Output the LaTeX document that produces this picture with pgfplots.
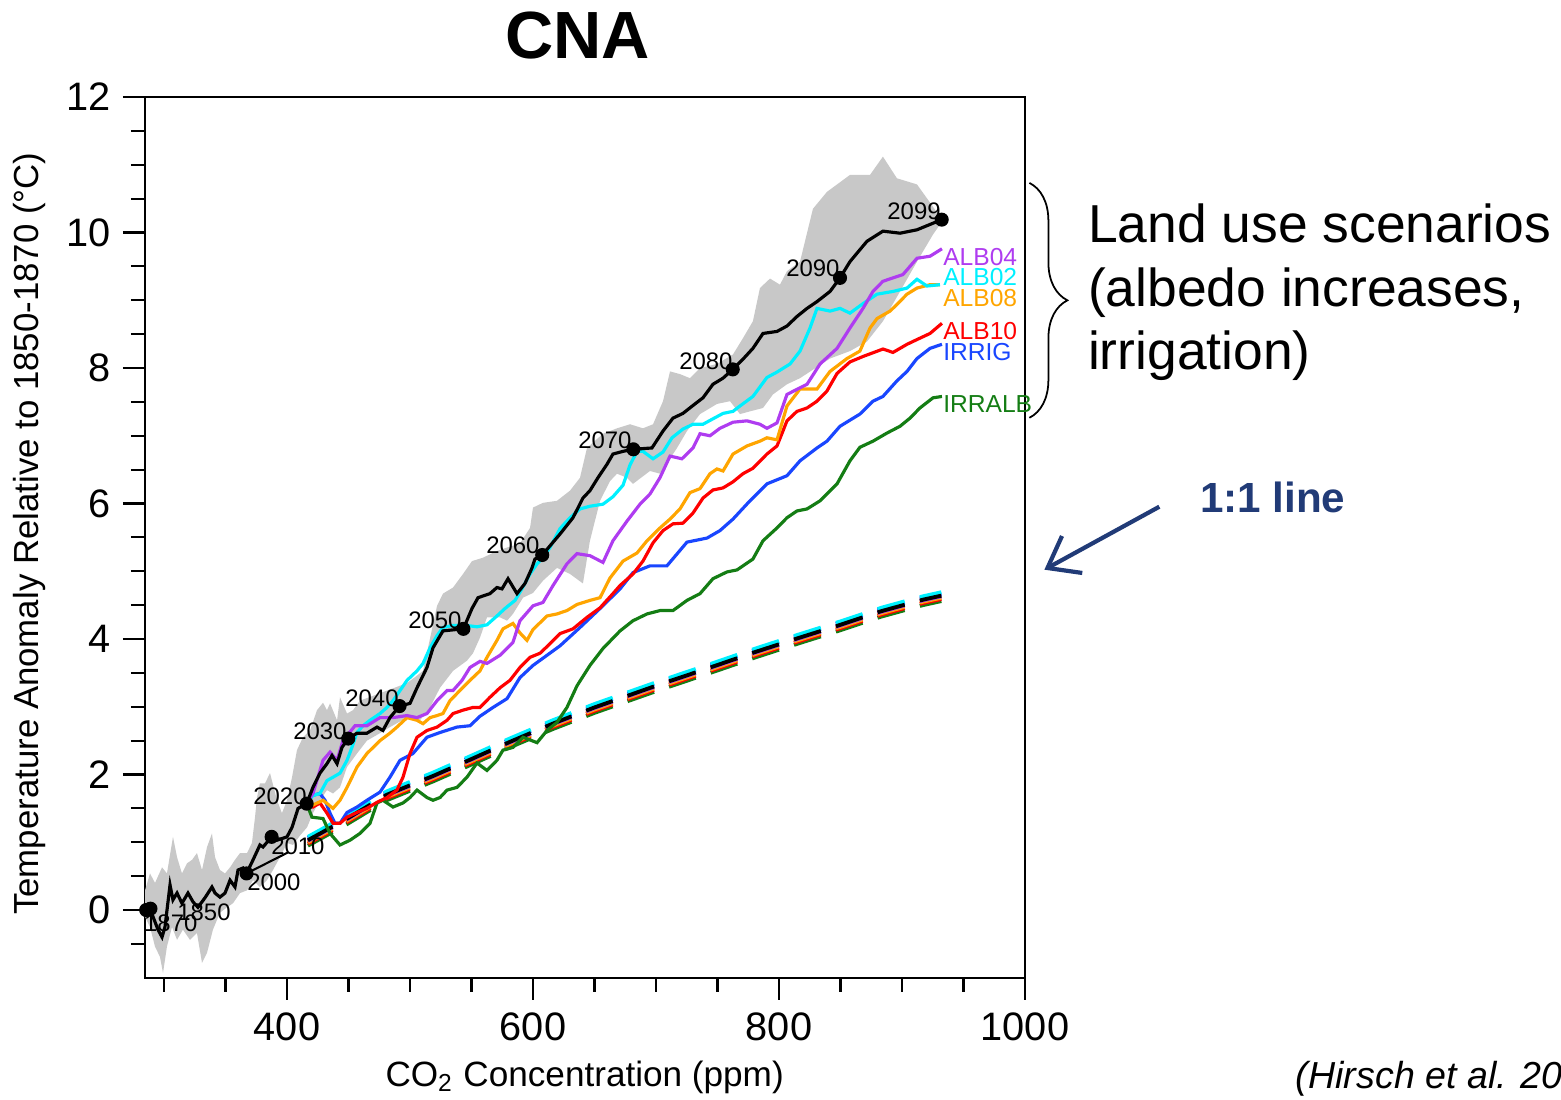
\documentclass[border=0pt]{standalone}
\usepackage{fontspec}
\setmainfont{Liberation Sans}
\usepackage{pgfplots}
\pgfplotsset{compat=1.18}
\usepackage{pgfplotstable}
\usetikzlibrary{arrows.meta,decorations.pathreplacing}

\definecolor{cALBfour}{RGB}{175,60,240}
\definecolor{cALBtwo}{RGB}{0,240,255}
\definecolor{cALBeight}{RGB}{255,165,0}
\definecolor{cALBten}{RGB}{255,0,0}
\definecolor{cIRRIG}{RGB}{25,70,255}
\definecolor{cIRRALB}{RGB}{20,125,20}
\definecolor{bandgray}{RGB}{200,200,200}
\definecolor{navy}{RGB}{33,59,119}

% 1:1 lines (k = RCP8.5 reference, others = land use scenarios)
\pgfplotstableread{
x   k    c    b    p    o    r    g
417 1.03 1.08 1.06 1.02 1.00 0.98 0.95
449 1.35 1.40 1.38 1.34 1.32 1.30 1.27
481 1.70 1.75 1.73 1.69 1.67 1.65 1.62
519 1.98 2.03 2.01 1.97 1.95 1.93 1.90
549 2.22 2.27 2.25 2.21 2.19 2.17 2.14
581 2.48 2.53 2.51 2.47 2.45 2.43 2.40
616 2.75 2.80 2.78 2.74 2.72 2.70 2.67
650 2.99 3.04 3.02 2.98 2.96 2.94 2.91
700 3.31 3.36 3.34 3.30 3.28 3.26 3.23
749 3.61 3.66 3.64 3.60 3.58 3.56 3.53
781 3.81 3.86 3.84 3.80 3.78 3.76 3.73
815 4.01 4.06 4.04 4.00 3.98 3.96 3.93
850 4.21 4.26 4.24 4.20 4.18 4.16 4.13
883 4.41 4.46 4.44 4.40 4.38 4.36 4.33
917 4.58 4.63 4.61 4.57 4.55 4.53 4.50
932 4.64 4.69 4.67 4.63 4.61 4.59 4.56
}\oneone

\begin{document}
\begin{tikzpicture}
\useasboundingbox (0,0) rectangle (15.61cm,-10.99cm);
\begin{axis}[
  at={(1.45cm,-9.7775cm)}, anchor=south west,
  scale only axis, width=8.8cm, height=8.8075cm,
  xmin=284.55, xmax=1000, ymin=-1, ymax=12,
  xtick={400,600,800,1000},
  minor xtick={300,350,450,500,550,650,700,750,850,900,950},
  ytick={0,2,...,12},
  minor ytick={-0.5,0,...,11.5},
  tick pos=left, tick align=outside,
  major tick length=6.3pt, minor tick length=4pt,
  axis line style={line width=0.6pt},
  tick style={black, line width=0.6pt},
  tick label style={font=\fontsize{11.3}{13}\selectfont},
  scaled x ticks=false,
  /pgf/number format/1000 sep={},
  /pgf/number format/assume math mode=true,
  clip=false,
]
% model spread
\addplot[draw=none, fill=bandgray] coordinates {
(284.6,0.29)(288.6,0.54)(292.7,0.40)(298.4,0.63)(302.4,0.54)(307.3,1.08)(310.6,0.78)(314.6,0.54)(318.7,0.69)(322.8,0.74)(326.8,0.84)(330.9,0.59)(335.0,0.93)(339.0,1.13)(341.5,0.78)(345.5,0.59)(349.6,0.54)(353.7,0.63)(357.7,0.74)(361.8,0.84)(367.5,0.84)(371.5,0.99)(374.0,1.37)(375.6,1.66)(378.0,1.87)(382.1,1.87)(386.2,2.02)(391.9,1.62)(395.9,1.43)(400.0,1.62)(404.1,1.96)(408.1,2.36)(413.0,2.55)(418.7,2.65)(424.4,2.95)(429.3,3.06)(432.5,2.95)(435.0,3.05)(440.7,2.80)(443.1,3.14)(448.8,2.90)(453.7,2.95)(459.3,3.09)(475.6,3.20)(497.6,3.35)(505.0,3.45)(510.6,3.53)(522.0,4.49)(526.8,4.67)(535.0,4.76)(543.1,4.96)(550.4,5.15)(559.3,5.20)(570.7,5.30)(578.9,5.35)(589.4,5.41)(597.6,5.64)(600.0,5.94)(608.1,6.01)(619.5,6.04)(630.1,6.19)(638.2,6.38)(643.9,6.82)(656.9,7.03)(668.3,7.11)(678.9,7.17)(689.4,7.11)(697.6,7.17)(705.7,7.51)(711.4,7.95)(719.5,7.91)(727.6,7.85)(735.8,8.00)(749.6,8.06)(762.6,8.20)(770.7,8.44)(778.8,8.69)(784.5,9.18)(792.7,9.32)(800.8,9.23)(806.5,9.43)(817.1,9.57)(827.6,10.35)(839.0,10.60)(857.7,10.85)(874.0,10.85)(884.5,11.12)(895.9,10.80)(912.2,10.71)(925.2,10.38)(932.5,10.19)
(932.5,10.16)(925.2,9.97)(912.2,9.57)(898.4,9.13)(884.5,8.69)(871.5,8.39)(857.7,8.25)(841.5,8.14)(817.1,7.85)(806.5,7.76)(795.1,7.61)(787.0,7.41)(776.4,7.36)(768.3,7.32)(760.2,7.51)(749.6,7.47)(735.8,7.32)(725.2,7.07)(717.1,6.82)(703.3,6.44)(695.1,6.48)(681.3,6.29)(676.4,6.38)(668.3,6.44)(662.6,6.33)(654.5,6.04)(646.3,5.45)(640.6,4.82)(630.1,4.96)(619.5,5.05)(608.1,4.86)(600.0,4.68)(591.9,4.61)(583.7,4.37)(578.9,4.27)(573.2,4.32)(562.6,4.32)(556.9,4.02)(551.2,3.79)(546.3,3.68)(535.0,3.53)(524.4,3.28)(516.3,2.99)(508.1,2.80)(497.6,2.84)(483.7,2.70)(475.6,2.61)(465.0,2.50)(456.9,2.31)(448.8,2.11)(443.1,1.81)(437.4,1.72)(432.5,1.77)(426.8,1.62)(421.1,1.43)(416.3,1.22)(410.6,1.10)(404.9,0.96)(400.0,0.99)(394.3,0.78)(388.6,0.59)(383.7,0.44)(378.0,0.34)(372.4,0.44)(367.5,0.29)(361.8,0.25)(356.1,0.10)(351.2,0.04)(345.5,-0.04)(339.8,-0.29)(335.0,-0.63)(330.9,-0.78)(326.8,-0.34)(321.1,-0.44)(315.4,-0.29)(310.6,-0.44)(306.5,-0.25)(302.4,-0.54)(299.2,-0.93)(296.7,-0.69)(292.7,-0.54)(288.6,-0.25)(284.6,-0.10)
};

% 1:1 lines
\pgfplotsset{oneline/.style={line width=1.1pt, dash pattern=on 8pt off 4.5pt}}
\addplot[oneline, cIRRALB] table[x=x,y=g]{\oneone};
\addplot[oneline, cALBten] table[x=x,y=r]{\oneone};
\addplot[oneline, cALBeight] table[x=x,y=o]{\oneone};
\addplot[oneline, cALBfour] table[x=x,y=p]{\oneone};
\addplot[oneline, cIRRIG] table[x=x,y=b]{\oneone};
\addplot[oneline, cALBtwo] table[x=x,y=c]{\oneone};
\addplot[oneline, black] table[x=x,y=k]{\oneone};
\addplot[black, line width=0.6pt] coordinates {(367.1,0.54)(400.8,0.85)};

% land use scenarios
\addplot[cIRRALB, line width=0.9pt] coordinates {
(416.0,1.57)(420.3,1.37)(429.3,1.35)(435.0,1.13)(443.1,0.96)(451.2,1.03)(459.3,1.13)(467.5,1.28)(473.2,1.58)(478.0,1.62)(486.2,1.52)(494.3,1.58)(500.0,1.66)(505.7,1.77)(513.8,1.66)(518.7,1.62)(524.4,1.66)(530.1,1.77)(538.2,1.81)(546.3,1.96)(554.5,2.17)(562.6,2.06)(570.7,2.21)(575.6,2.36)(583.7,2.40)(591.9,2.55)(603.3,2.47)(611.4,2.65)(619.5,2.77)(627.6,2.99)(635.8,3.31)(646.3,3.61)(656.9,3.86)(670.8,4.12)(681.3,4.27)(692.7,4.37)(703.3,4.42)(713.8,4.42)(725.2,4.57)(735.8,4.67)(746.3,4.89)(757.7,4.99)(765.9,5.02)(778.8,5.18)(787.0,5.45)(798.4,5.64)(806.5,5.79)(814.6,5.89)(822.8,5.92)(833.4,6.04)(847.2,6.29)(857.7,6.63)(865.8,6.83)(876.4,6.92)(887.8,7.04)(898.4,7.14)(906.5,7.26)(914.6,7.41)(925.2,7.56)(932.5,7.58)
};
\addplot[cIRRIG, line width=0.9pt] coordinates {
(416.0,1.57)(420.3,1.69)(426.8,1.72)(430.9,1.62)(435.0,1.43)(439.0,1.28)(443.1,1.28)(448.8,1.44)(456.9,1.52)(465.0,1.62)(475.6,1.74)(483.7,1.96)(491.9,2.21)(502.4,2.31)(513.8,2.55)(524.4,2.62)(538.2,2.70)(548.8,2.72)(556.9,2.86)(567.5,2.99)(578.9,3.12)(589.4,3.43)(600.0,3.61)(611.4,3.76)(622.0,3.90)(638.2,4.17)(654.5,4.45)(670.8,4.74)(681.3,4.98)(695.1,5.08)(708.9,5.08)(725.2,5.43)(741.5,5.49)(752.0,5.60)(762.6,5.77)(776.4,6.04)(790.2,6.29)(806.5,6.41)(817.1,6.63)(830.9,6.82)(839.0,6.92)(849.6,7.14)(865.8,7.32)(876.4,7.51)(884.5,7.58)(895.9,7.81)(904.1,7.95)(912.2,8.14)(922.8,8.29)(932.5,8.35)
};
\addplot[cALBten, line width=0.9pt] coordinates {
(416.0,1.57)(421.1,1.52)(426.8,1.58)(432.5,1.43)(437.4,1.28)(443.1,1.28)(448.8,1.37)(456.9,1.44)(465.0,1.50)(473.2,1.59)(481.3,1.66)(489.4,1.77)(494.3,1.96)(500.0,2.31)(505.7,2.55)(513.8,2.65)(522.0,2.70)(530.1,2.80)(535.0,2.90)(543.1,2.95)(551.2,2.99)(556.9,2.99)(565.0,3.14)(573.2,3.28)(581.3,3.39)(589.4,3.58)(597.6,3.73)(605.7,3.79)(613.8,3.93)(622.0,4.08)(632.5,4.15)(643.9,4.32)(654.5,4.46)(665.0,4.67)(670.8,4.79)(681.3,4.96)(689.4,5.15)(697.6,5.42)(705.7,5.60)(713.8,5.70)(722.0,5.71)(730.1,5.86)(738.2,6.08)(746.3,6.20)(754.5,6.23)(762.6,6.32)(770.7,6.44)(778.8,6.52)(790.2,6.73)(798.4,6.85)(806.5,7.22)(814.6,7.36)(822.8,7.41)(830.9,7.51)(839.0,7.66)(847.2,7.92)(857.7,8.09)(868.3,8.17)(884.5,8.28)(892.7,8.23)(904.1,8.35)(912.2,8.42)(922.8,8.51)(932.5,8.66)
};
\addplot[cALBeight, line width=0.9pt] coordinates {
(416.0,1.57)(421.1,1.55)(429.3,1.62)(437.4,1.50)(443.1,1.62)(448.8,1.81)(456.9,2.11)(465.0,2.31)(475.6,2.50)(483.7,2.61)(489.4,2.70)(497.6,2.84)(505.7,2.80)(510.6,2.75)(516.3,2.84)(522.0,2.87)(526.8,2.90)(532.5,3.09)(540.6,3.24)(548.8,3.39)(556.9,3.53)(562.6,3.73)(570.7,3.98)(575.6,4.15)(583.7,4.23)(589.4,4.09)(595.1,3.98)(600.0,4.14)(611.4,4.34)(619.5,4.37)(627.6,4.42)(635.8,4.51)(646.3,4.57)(654.5,4.61)(662.6,4.90)(673.2,5.15)(684.6,5.27)(692.7,5.45)(703.3,5.64)(711.4,5.77)(719.5,5.92)(727.6,6.16)(735.8,6.22)(743.9,6.44)(749.6,6.51)(754.5,6.48)(762.6,6.73)(774.0,6.85)(784.5,6.92)(790.2,6.97)(798.4,6.94)(806.5,7.44)(817.1,7.69)(830.9,7.69)(841.5,7.95)(855.3,8.14)(865.8,8.25)(874.0,8.59)(879.7,8.73)(890.3,8.84)(896.0,8.94)(904.1,9.09)(912.2,9.18)(922.8,9.23)(930.9,9.23)
};
\addplot[cALBtwo, line width=0.9pt] coordinates {
(416.0,1.57)(421.1,1.69)(426.8,1.72)(432.5,1.91)(437.4,1.96)(443.1,2.02)(448.8,2.21)(452.8,2.40)(456.9,2.62)(461.8,2.72)(467.5,2.80)(475.6,2.90)(481.3,2.99)(486.2,3.09)(491.9,3.24)(497.6,3.39)(505.7,3.53)(510.6,3.64)(516.3,3.87)(522.0,4.05)(526.8,4.17)(535.0,4.20)(546.3,4.20)(554.5,4.18)(562.6,4.21)(570.7,4.34)(577.2,4.45)(585.4,4.57)(591.0,4.74)(597.6,4.96)(603.3,5.11)(608.1,5.20)(613.8,5.35)(622.0,5.63)(630.1,5.79)(638.2,5.92)(646.3,5.96)(656.9,5.99)(665.0,6.10)(673.2,6.27)(678.9,6.57)(684.6,6.77)(689.4,6.77)(697.6,6.66)(705.7,6.76)(713.0,6.97)(722.0,7.10)(730.1,7.17)(738.2,7.17)(746.3,7.25)(754.5,7.33)(762.6,7.36)(768.3,7.44)(778.8,7.58)(790.2,7.86)(798.4,7.94)(809.0,8.06)(817.1,8.25)(825.2,8.59)(830.9,8.88)(841.5,8.84)(849.6,8.88)(857.7,8.81)(868.3,8.95)(879.7,9.09)(892.7,9.13)(904.1,9.18)(912.2,9.31)(920.3,9.21)(930.9,9.23)
};
\addplot[cALBfour, line width=0.9pt] coordinates {
(416.0,1.57)(421.1,1.72)(429.3,2.21)(435.0,2.33)(440.7,2.21)(445.5,2.50)(455.3,2.72)(465.0,2.72)(475.6,2.84)(486.2,2.84)(497.6,2.87)(505.7,2.84)(513.8,2.90)(522.0,3.09)(530.1,3.24)(535.0,3.24)(542.3,3.39)(548.8,3.58)(556.9,3.67)(562.6,3.64)(573.2,3.76)(583.7,3.95)(589.4,4.27)(600.0,4.49)(608.1,4.54)(616.3,4.79)(627.6,5.11)(635.8,5.26)(646.3,5.23)(656.9,5.13)(665.0,5.45)(676.4,5.74)(687.0,5.99)(695.1,6.14)(703.2,6.38)(711.4,6.70)(721.1,6.66)(730.1,6.82)(735.8,7.03)(743.9,7.00)(752.0,7.11)(762.6,7.20)(774.0,7.22)(784.5,7.17)(790.2,7.11)(798.4,7.19)(806.5,7.61)(822.8,7.76)(833.4,8.06)(847.2,8.29)(857.7,8.59)(868.3,8.88)(876.4,9.13)(884.5,9.28)(900.8,9.38)(912.2,9.62)(922.8,9.65)(932.5,9.76)
};

% RCP8.5 reference (historical + future)
\addplot[black, line width=0.9pt] coordinates {
(285,0.00)(288.6,0.03)(291.1,-0.10)(295.1,-0.29)(298.4,-0.40)(300.8,-0.25)(304.9,0.37)(307.3,0.15)(310.6,0.25)(314.6,0.10)(319.5,0.25)(323.6,0.12)(327.6,0.04)(333.3,0.18)(339.0,0.34)(341.5,0.25)(345.5,0.19)(349.6,0.25)(353.7,0.44)(357.7,0.34)(360.2,0.59)(364.2,0.62)(367.1,0.54)(372.4,0.74)(378.0,0.96)(380.5,0.93)(387.5,1.08)(391.9,1.03)(400,1.08)(404.1,1.22)(409,1.50)(416.0,1.57)(421.1,1.81)(426.8,2.02)(432.5,2.16)(436.6,2.28)(440.7,2.16)(444.7,2.40)(449.8,2.53)(456.9,2.61)(465.0,2.61)(473.2,2.70)(478.0,2.65)(483.7,2.84)(491.5,3.01)(500.0,3.05)(505.7,3.28)(513.8,3.58)(518.7,3.87)(526.8,4.12)(543.4,4.15)(550.4,4.45)(555.3,4.61)(565.0,4.67)(570.7,4.76)(574.8,4.74)(579.7,4.89)(587.0,4.67)(593.5,4.82)(599.2,5.05)(601.6,5.18)(607.5,5.24)(622.0,5.55)(632.5,5.79)(640.6,6.08)(646.3,6.19)(652.8,6.38)(660.2,6.58)(665.0,6.73)(673.2,6.77)(681.6,6.80)(696.7,6.82)(705.7,7.07)(713.8,7.26)(721.9,7.33)(731.7,7.47)(738.2,7.56)(746.3,7.76)(754.5,7.85)(762.4,7.98)(770.7,8.13)(778.8,8.29)(787.0,8.51)(798.4,8.54)(806.5,8.62)(814.6,8.76)(822.8,8.88)(830.9,8.98)(841.5,9.13)(849.6,9.33)(857.7,9.57)(871.5,9.87)(884.5,10.02)(898.4,9.99)(912.2,10.04)(932.3,10.19)
};
\addplot[only marks, mark=*, mark size=1.8pt, black] coordinates {
(285.5,0.00)(289,0.02)(367.1,0.54)(387.5,1.08)(416.0,1.57)(449.8,2.53)(491.5,3.01)(543.4,4.15)(607.5,5.24)(681.6,6.80)(762.4,7.98)(849.6,9.33)(932.3,10.19)
};

% year labels
\begin{scope}[every node/.style={font=\fontsize{6.8}{8}\selectfont, inner sep=0pt}]
\node at (axis cs:305.5,-0.20) {1870};
\node at (axis cs:332.5,-0.04) {1850};
\node at (axis cs:389.4,0.41) {2000};
\node at (axis cs:408.9,0.94) {2010};
\node at (axis cs:394.3,1.68) {2020};
\node at (axis cs:426.8,2.64) {2030};
\node at (axis cs:469.1,3.12) {2040};
\node at (axis cs:520.3,4.27) {2050};
\node at (axis cs:583.7,5.38) {2060};
\node at (axis cs:658.5,6.94) {2070};
\node at (axis cs:740.6,8.10) {2080};
\node at (axis cs:827.6,9.47) {2090};
\node at (axis cs:909.8,10.31) {2099};
\end{scope}
% scenario labels
\begin{scope}[every node/.style={font=\fontsize{7}{8}\selectfont, inner sep=0pt, anchor=west}]
\node[text=cALBfour] at (axis cs:933,9.64) {ALB04};
\node[text=cALBtwo] at (axis cs:933,9.34) {ALB02};
\node[text=cALBeight] at (axis cs:933,9.03) {ALB08};
\node[text=cALBten] at (axis cs:933,8.55) {ALB10};
\node[text=cIRRIG] at (axis cs:933,8.24) {IRRIG};
\node[text=cIRRALB] at (axis cs:933,7.47) {IRRALB};
\end{scope}
\end{axis}

\begin{scope}[x=0.01cm, y=-0.01cm]
\node[font=\bfseries\fontsize{19}{22}\selectfont, inner sep=0pt] at (578,36) {CNA};
\node[font=\fontsize{9.9}{12}\selectfont, rotate=90, inner sep=0pt] at (30,534) {Temperature Anomaly Relative to 1850-1870 (°C)};
\node[font=\fontsize{10}{12}\selectfont, inner sep=0pt] at (585,1078) {CO\textsubscript{2} Concentration (ppm)};
\draw[decorate, decoration={brace, amplitude=0.38cm}, line width=0.5pt] (1030,183) -- (1030,418);
\begin{scope}[every node/.style={anchor=base west, inner sep=0pt, font=\fontsize{15.2}{18}\selectfont}]
\node at (1088,243) {Land use scenarios};
\node at (1088,307) {(albedo increases,};
\node at (1088,370) {irrigation)};
\end{scope}
\node[anchor=base west, inner sep=0pt, font=\bfseries\fontsize{12}{14}\selectfont, text=navy] at (1200,513) {1:1 line};
\draw[navy, line width=1.2pt, -{Straight Barb[length=8pt,width=12pt]}] (1160,507) -- (1045,570);
\node[anchor=base west, inner sep=0pt, font=\itshape\fontsize{10.7}{13}\selectfont] at (1296,1089) {(Hirsch et al. 20};
\end{scope}
\end{tikzpicture}
\end{document}
